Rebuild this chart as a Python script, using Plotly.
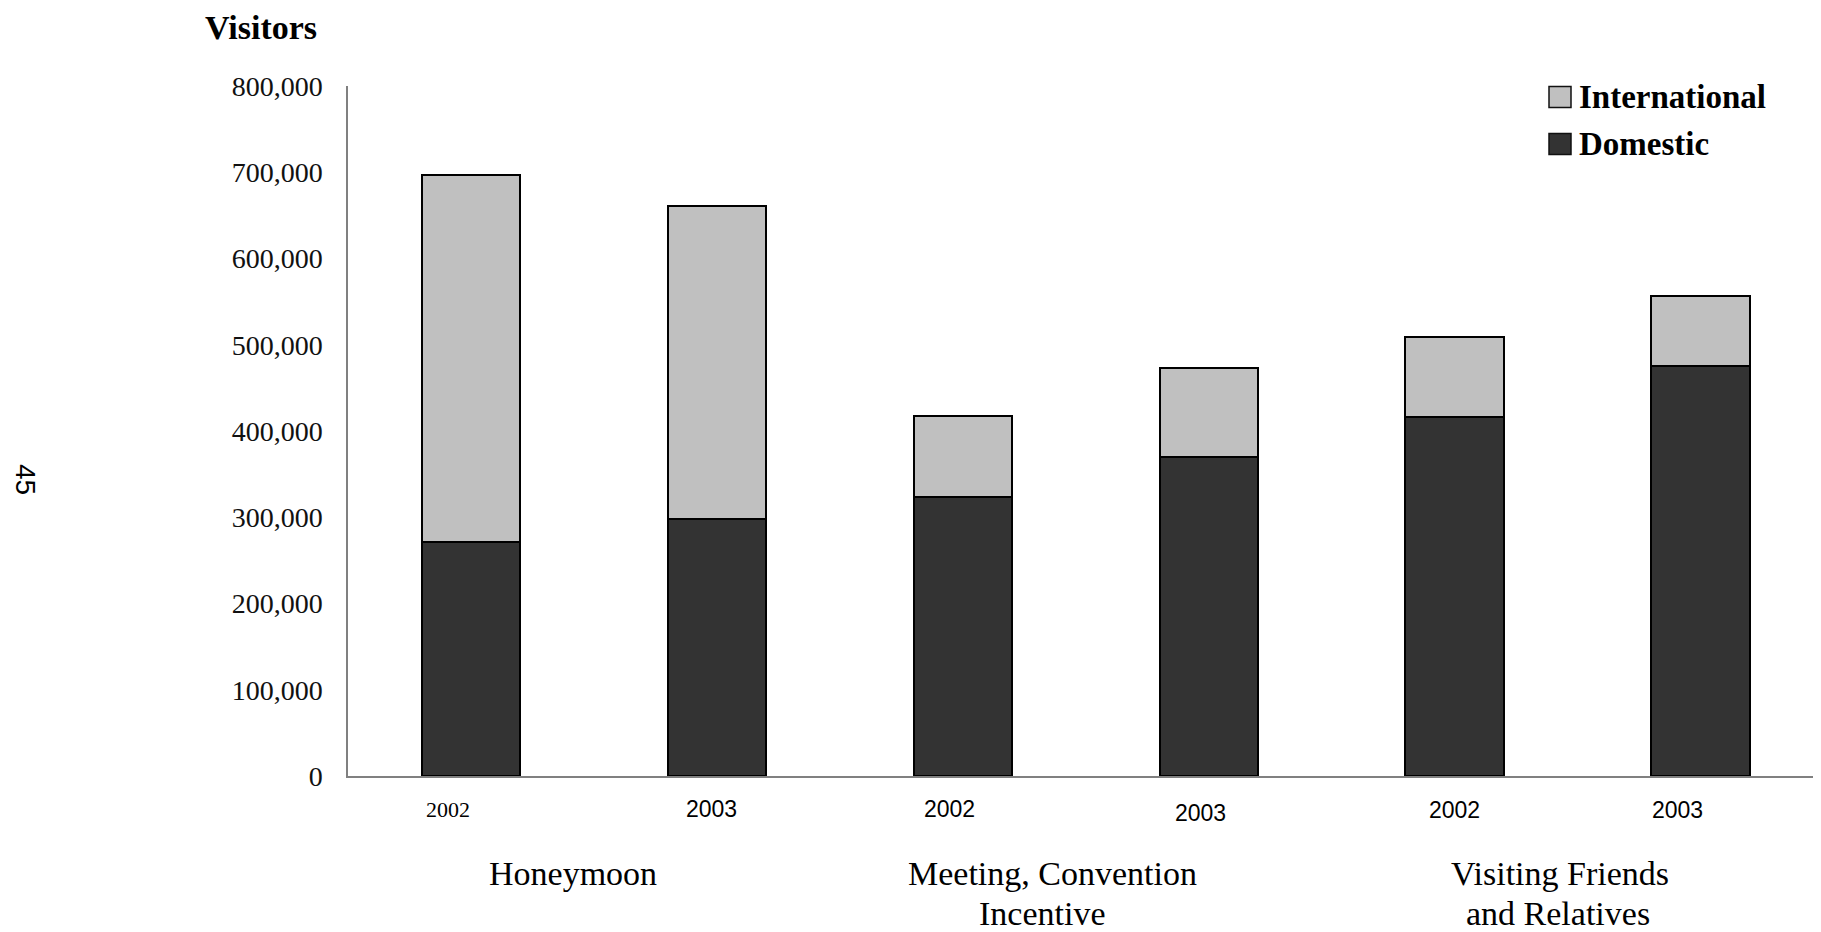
import plotly.graph_objects as go

# ---- data ----
groups = ["Honeymoon", "Meeting, Convention Incentive", "Visiting Friends and Relatives"]
years = ["2002", "2003"]
domestic = [271000, 298000, 323000, 370000, 416000, 475000]
international = [426000, 363000, 94000, 103000, 93000, 81000]
y_ticks = [0, 100000, 200000, 300000, 400000, 500000, 600000, 700000, 800000]
group_lines = [["Honeymoon"], ["Meeting, Convention", "Incentive"], ["Visiting Friends", "and Relatives"]]

cats = [f"{g} {y}" for g in groups for y in years]
year_labels = [y for g in groups for y in years]

# page has an 8px body margin: figure is drawn offset by (8, 8)
OFF = 8
W, H = 1821 - OFF, 932 - OFF
PL, PT, PW, PH = 348 - OFF, 86 - OFF, 1473, 690


def pxx(x):  # x in screen pixels -> paper
    return (x - OFF - PL) / PW


def pyy(y):  # y in screen pixels -> paper
    return (PT + PH - (y - OFF)) / PH


SERIF = "Liberation Serif, Times New Roman, serif"
SANS = "Liberation Sans, Arial, sans-serif"
C_DOM = "#333333"
C_INT = "#c0c0c0"

fig = go.Figure()
fig.add_trace(go.Bar(x=cats, y=domestic, name="Domestic",
                     marker=dict(color=C_DOM, line=dict(color="#000000", width=2)),
                     showlegend=False))
fig.add_trace(go.Bar(x=cats, y=international, name="International",
                     marker=dict(color=C_INT, line=dict(color="#000000", width=2)),
                     showlegend=False))

annotations = []
# year labels under each bar
year_style = [  # (xshift, y center px, font)
    (-23, 809, dict(family=SERIF, size=22, color="#000")),
    (-5, 808.5, dict(family=SANS, size=23, color="#000")),
    (-13, 808.5, dict(family=SANS, size=23, color="#000")),
    (-8, 813, dict(family=SANS, size=23, color="#000")),
    (0, 810, dict(family=SANS, size=23, color="#000")),
    (-23, 810, dict(family=SANS, size=23, color="#000")),
]
for c, lab, (xs, yc, f) in zip(cats, year_labels, year_style):
    annotations.append(dict(x=c, xref="x", y=pyy(yc), yref="paper", text=lab,
                            showarrow=False, xanchor="center", yanchor="middle",
                            xshift=xs, font=f))

# group labels (one annotation per line)
group_pos = [[(573, 873)], [(1052, 873), (1042, 913)], [(1560, 873), (1558, 913)]]
for lines, poss in zip(group_lines, group_pos):
    for t, (gx, gy) in zip(lines, poss):
        annotations.append(dict(x=pxx(gx), xref="paper", y=pyy(gy), yref="paper", text=t,
                                showarrow=False, xanchor="center", yanchor="middle",
                                font=dict(family=SERIF, size=34, color="#000")))

# axis title
annotations.append(dict(x=pxx(261), xref="paper", y=1.0 + (PT) / PH, yref="paper",
                        text="<b>Visitors</b>",
                        showarrow=False, xanchor="center", yanchor="top", borderpad=0,
                        font=dict(family=SERIF, size=34, color="#000")))
# page number
annotations.append(dict(x=pxx(26), xref="paper", y=pyy(479), yref="paper", text="45",
                        showarrow=False, xanchor="center", yanchor="middle", textangle=90,
                        font=dict(family=SANS, size=28, color="#000")))

# legend (manual, to match large swatches)
shapes = []
legend_items = [("International", C_INT, 97), ("Domestic", C_DOM, 144)]
for name, col, yc in legend_items:
    shapes.append(dict(type="rect", xref="paper", yref="paper",
                       x0=pxx(1549), x1=pxx(1571), y0=pyy(yc + 10.5), y1=pyy(yc - 10.5),
                       fillcolor=col, line=dict(color="#111111", width=1.5)))
    annotations.append(dict(x=pxx(1577), xref="paper", y=pyy(yc), yref="paper",
                            text=f"<b>{name}</b>", showarrow=False,
                            xanchor="left", yanchor="middle",
                            font=dict(family=SERIF, size=33, color="#000")))

fig.update_layout(
    width=W, height=H, autosize=False,
    margin=dict(l=PL, r=W - PL - PW, t=PT, b=H - PT - PH, pad=0),
    paper_bgcolor="white", plot_bgcolor="white",
    barmode="stack", bargap=0.6,
    annotations=annotations, shapes=shapes,
    showlegend=False,
    xaxis=dict(type="category", range=[-0.5, 5.49], showticklabels=False,
               showline=True, linecolor="#808080", linewidth=1.5,
               showgrid=False, zeroline=False, ticks=""),
    yaxis=dict(range=[0, 800000], tickvals=y_ticks, tickformat=",d",
               showline=True, linecolor="#808080", linewidth=1.5,
               showgrid=False, zeroline=False, ticks="",
               ticklabelstandoff=18,
               tickfont=dict(family=SERIF, size=28, color="#111")),
)

fig.write_html("out.html")
